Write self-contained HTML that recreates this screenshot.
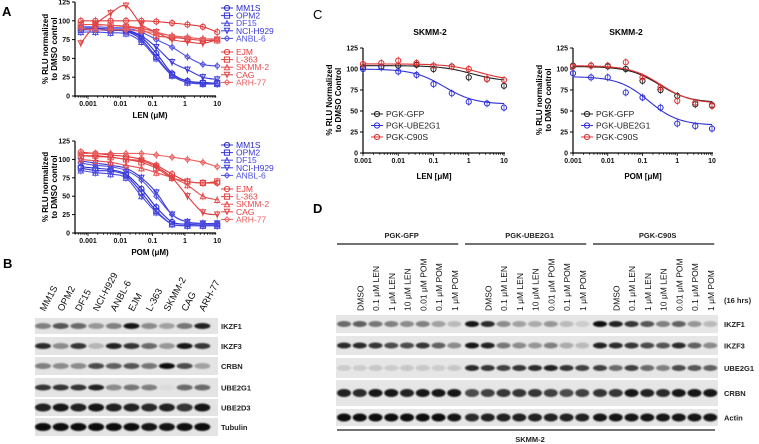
<!DOCTYPE html>
<html><head><meta charset="utf-8">
<style>
body{margin:0;background:#fff;}
svg{display:block;font-family:"Liberation Sans",Arial,sans-serif;}
.t{font-size:7px;font-weight:bold;fill:#111}
.lg{font-size:8.5px}
.bl{font-size:7.5px;font-weight:bold;fill:#222}
</style></head>
<body>
<svg id="fig" width="759" height="444" viewBox="0 0 759 444">
<defs><filter id="blur" x="-20%" y="-50%" width="140%" height="200%"><feGaussianBlur stdDeviation="0.8"/></filter></defs>
<text x="2" y="16" font-size="13" font-weight="bold">A</text>
<text x="3" y="268" font-size="13" font-weight="bold">B</text>
<text x="313" y="19" font-size="13">C</text>
<text x="313" y="213" font-size="13" font-weight="bold">D</text>
<g id="gA1"></g>
<g id="gA2"></g>
<g id="gCL"></g>
<g id="gCR"></g>
<g id="gB"></g>
<g id="gD"></g>
</svg>
<script>
// ---- Panel A data ----
const concA = [0.0006,0.0017,0.005,0.015,0.045,0.13,0.4,1.2,3.6,10];
const namesA = ["MM1S","OPM2","DF15","NCI-H929","ANBL-6","EJM","L-363","SKMM-2","CAG","ARH-77"];
const lenMM1S=[90,90,88,87,78,57,30,20,18,17];
const lenOPM2=[88,88,87,86,75,52,28,18,17,17];
const lenDF15=[85,85,84,83,72,50,27,18,16,16];
const lenH929=[90,90,89,88,80,65,45,35,25,22];
const lenANBL6=[92,92,91,90,85,75,65,52,42,40];
const lenEJM=[100,100,100,100,100,99,97,95,92,85];
const lenL363=[95,95,94,92,88,80,78,76,74,74];
const lenSKMM2=[95,95,94,93,90,85,80,78,76,76];
const lenCAG=[70,95,110,120,95,85,75,72,70,75];
const lenARH77=[90,88,88,88,86,84,80,78,76,75];
const pomMM1S=[90,88,86,80,60,35,15,12,12,12];
const pomOPM2=[88,85,84,78,55,30,12,10,10,10];
const pomDF15=[85,82,80,75,50,28,12,10,10,10];
const pomH929=[98,95,92,88,75,55,25,15,13,13];
const pomANBL6=[95,92,90,85,72,50,25,15,12,12];
const pomEJM=[110,108,106,104,100,92,80,70,68,68];
const pomL363=[105,105,103,100,96,88,75,70,68,70];
const pomSKMM2=[100,98,96,92,88,82,75,65,50,45];
const pomCAG=[105,104,103,100,98,90,75,50,28,25];
const pomARH77=[108,108,108,108,108,106,103,100,96,90];
// ---- Panel C data ----
const concC=[0.001,0.0033,0.01,0.033,0.1,0.33,1,3.3,10];
const namesC=["PGK-GFP","PGK-UBE2G1","PGK-C90S"];
const cLenGFP=[102,103,104,105,100,103,90,88,80];
const cLenUBE=[100,102,97,93,82,71,61,59,54];
const cLenC90S=[106,107,110,107,104,103,100,88,87];
const cPomGFP=[104,104,103,100,86,75,68,58,57];
const cPomUBE=[95,90,90,72,66,54,35,32,29];
const cPomC90S=[103,104,104,108,90,78,62,60,56];
// fitted curve parameters: [top, bottom, EC50]
const fitLenGFP=[104,85,1.2];
const fitLenUBE=[100,58,0.2];
const fitLenC90S=[106,86,2];
const fitPomGFP=[103,60,0.3];
const fitPomUBE=[91,33,0.15];
const fitPomC90S=[104,59,0.33];
const yTicks=[0,25,50,75,100,125];
const xTickVals=[0.001,0.01,0.1,1,10];
const xTickLabels=["0.001","0.01","0.1","1","10"];
// ---- Blot data ----
const lanesB=["MM1S","OPM2","DF15","NCI-H929","ANBL-6","EJM","L-363","SKMM-2","CAG","ARH-77"];
const proteinsB=["IKZF1","IKZF3","CRBN","UBE2G1","UBE2D3","Tubulin"];
const bIKZF1=[0.45,0.65,0.55,0.35,0.45,0.95,0.4,0.3,0.5,0.9];
const bIKZF3=[0.85,0.4,0.8,0.2,0.9,0.8,0.55,0.35,0.95,0.8];
const bCRBN=[0.45,0.4,0.4,0.7,0.6,0.65,0.5,0.98,0.7,0.3];
const bUBE2G1=[0.8,0.8,0.8,0.9,0.4,0.5,0.45,0.03,0.55,0.55];
const bUBE2D3=[0.9,0.95,0.9,0.95,0.9,0.9,0.85,0.9,0.8,0.95];
const bTub=[1,1,1,1,1,1,0.95,0.95,1,1];
const groupsD=["PGK-GFP","PGK-UBE2G1","PGK-C90S"];
const treatD=["DMSO","0.1 μM LEN","1 μM LEN","10 μM LEN","0.01 μM POM","0.1 μM POM","1 μM POM"];
const proteinsD=["IKZF1","IKZF3","UBE2G1","CRBN","Actin"];
const dIKZF1=[0.55,0.6,0.5,0.45,0.4,0.45,0.3,0.18, 0.95,0.85,0.4,0.3,0.25,0.35,0.18,0.1, 1,0.9,0.8,0.65,0.45,0.6,0.35,0.18];
const dIKZF3=[0.85,0.85,0.8,0.7,0.7,0.8,0.6,0.4, 0.95,0.9,0.5,0.4,0.35,0.45,0.25,0.18, 0.9,0.85,0.8,0.7,0.65,0.85,0.6,0.4];
const dUBE2G1=[0.1,0.1,0.12,0.1,0.12,0.12,0.1,0.12, 0.85,0.8,0.75,0.8,0.85,0.9,0.8,0.75, 0.75,0.55,0.75,0.55,0.45,0.7,0.65,0.6];
const dCRBN=[0.9,0.85,0.95,0.95,0.9,0.95,0.95,0.95, 0.7,0.75,0.8,0.8,0.8,0.75,0.7,0.75, 0.8,0.8,0.95,0.9,0.85,0.95,0.95,0.95];
const dActin=[1,1,1,1,1,1,1,0.95, 0.85,0.9,0.9,0.9,0.9,0.9,0.9,0.9, 0.95,0.95,0.95,0.95,0.95,0.95,0.95,0.95];

const NS="http://www.w3.org/2000/svg";
function mk(tag,attrs,parent){const e=document.createElementNS(NS,tag);for(const k in attrs)e.setAttribute(k,attrs[k]);parent.appendChild(e);return e;}
function txt(s,attrs,parent){const e=mk("text",attrs,parent);e.textContent=s;return e;}
const BLUES=["#2a2ad0","#3535d8","#4a4ae0","#3a3ad8","#5050e0"];
const REDS=["#e23a3a","#e04444","#e85050","#e04040","#e86060"];
const SHAPES=["circle","square","tri","dtri","diamond"];
function marker(g,shape,x,y,col){
  const r=2.6;let e;
  if(shape==="circle")e=mk("circle",{cx:x,cy:y,r:r,fill:"none",stroke:col,"stroke-width":1},g);
  else if(shape==="square")e=mk("rect",{x:x-r,y:y-r,width:2*r,height:2*r,fill:"none",stroke:col,"stroke-width":1},g);
  else if(shape==="tri")e=mk("polygon",{points:`${x},${y-r} ${x-r},${y+r} ${x+r},${y+r}`,fill:"none",stroke:col,"stroke-width":1},g);
  else if(shape==="dtri")e=mk("polygon",{points:`${x},${y+r} ${x-r},${y-r} ${x+r},${y-r}`,fill:"none",stroke:col,"stroke-width":1},g);
  else e=mk("polygon",{points:`${x},${y-r} ${x+r},${y} ${x},${y+r} ${x-r},${y}`,fill:"none",stroke:col,"stroke-width":1},g);
  
  
  return e;
}
function smoothPath(pts){
  let d=`M${pts[0][0]},${pts[0][1]}`;
  for(let i=0;i<pts.length-1;i++){
    const p0=pts[Math.max(0,i-1)],p1=pts[i],p2=pts[i+1],p3=pts[Math.min(pts.length-1,i+2)];
    const c1x=p1[0]+(p2[0]-p0[0])/6,c1y=p1[1]+(p2[1]-p0[1])/6;
    const c2x=p2[0]-(p3[0]-p1[0])/6,c2y=p2[1]-(p3[1]-p1[1])/6;
    d+=` C${c1x},${c1y} ${c2x},${c2y} ${p2[0]},${p2[1]}`;
  }
  return d;
}
function axes(g,xs,ys,x0,x1){
  const ya=mk("line",{x1:x0,y1:ys(0)+1,x2:x0,y2:ys(125),stroke:"#000","stroke-width":1.2},g);
  
  
  const xa=mk("line",{x1:x0,y1:ys(0),x2:x1,y2:ys(0),stroke:"#000","stroke-width":1.2},g);
  
  
  yTicks.forEach(v=>{
    mk("line",{x1:x0-3,y1:ys(v),x2:x0,y2:ys(v),stroke:"#000"},g);
    const t=txt(String(v),{x:x0-5,y:ys(v)+2.5,"text-anchor":"end",class:"t"},g);
    
    
  });
  for(let d=-4;d<=1;d++)for(let m=1;m<10;m++){
    const c=m*Math.pow(10,d);const x=xs(c);
    if(x<x0-0.5||x>x1+0.5)continue;
    mk("line",{x1:x,y1:ys(0),x2:x,y2:ys(0)+(m===1?3:1.8),stroke:"#000","stroke-width":0.8},g);
  }
  xTickVals.forEach((c,i)=>{
    const t=txt(xTickLabels[i],{x:xs(c),y:ys(0)+10,"text-anchor":"middle",class:"t"},g);
    
    
  });
}
function series(g,xs,ys,conc,vals,shape,col,name,fit){
  const pts=conc.map((c,i)=>[xs(c),ys(vals[i])]);
  let d;
  if(fit){
    const lo=Math.log10(conc[0]),hi=Math.log10(conc[conc.length-1]);const fp=[];
    for(let k=0;k<=60;k++){const lc=lo+(hi-lo)*k/60;const c=Math.pow(10,lc);
      const v=fit[1]+(fit[0]-fit[1])/(1+c/fit[2]);fp.push([xs(c),ys(v)]);}
    d="M"+fp.map(p=>p[0].toFixed(2)+","+p[1].toFixed(2)).join(" L");
  } else d=smoothPath(pts);
  const p=mk("path",{d:d,fill:"none",stroke:col,"stroke-width":1.1},g);
  
  
  pts.forEach(q=>{
    mk("line",{x1:q[0],y1:q[1]-4,x2:q[0],y2:q[1]+4,stroke:col,"stroke-width":0.7},g);
    marker(g,shape,q[0],q[1],col);
  });
}
function legendEntry(g,x,y,shape,col,label,tcol){
  mk("line",{x1:x,y1:y,x2:x+12,y2:y,stroke:col,"stroke-width":1},g);
  marker(g,shape,x+6,y,col);
  const t=txt(label,{x:x+15,y:y+3,class:"lg",fill:tcol||col},g);
  
  
}
function yTitle(g,x,cy,l1,l2){
  const t=txt("",{transform:`translate(${x},${cy}) rotate(-90)`,"text-anchor":"middle","font-size":"8","font-weight":"bold"},g);
  
  
  mk("tspan",{x:0,y:0},t).textContent=l1;
  mk("tspan",{x:0,y:9},t).textContent=l2;
}
// ---- Panel A ----
const xA=c=>88+(Math.log10(c)+3)*32.3;
function panelA(g,ys,data,xlabel,legTop){
  axes(g,xA,ys,75,216);
  data.forEach((v,i)=>series(g,xA,ys,concA,v,SHAPES[i%5],i<5?BLUES[i]:REDS[i-5],namesA[i]));
  yTitle(g,48,(ys(0)+ys(125))/2,"% RLU normalized","to DMSO control");
  const t=txt(xlabel,{x:150,y:ys(0)+22,"text-anchor":"middle","font-size":"8","font-weight":"bold"},g);
  
  
  namesA.forEach((n,i)=>legendEntry(g,221,legTop+(i<5?i*7.6:i*7.6+6),SHAPES[i%5],i<5?BLUES[i]:REDS[i-5],n));
}
const yA1=v=>96-v*94/125;
const yA2=v=>233-v*92/125;
panelA(document.getElementById("gA1"),yA1,[lenMM1S,lenOPM2,lenDF15,lenH929,lenANBL6,lenEJM,lenL363,lenSKMM2,lenCAG,lenARH77],"LEN (μM)",8);
panelA(document.getElementById("gA2"),yA2,[pomMM1S,pomOPM2,pomDF15,pomH929,pomANBL6,pomEJM,pomL363,pomSKMM2,pomCAG,pomARH77],"POM (μM)",145);
// ---- Panel C ----
const yC=v=>153-v*105/125;
const COLC=["#222","#3030d8","#e03030"];
function panelC(g,xs,x0,x1,data,fits,xlabel,cx,ytl){
  axes(g,xs,yC,x0,x1);
  data.forEach((v,i)=>series(g,xs,yC,concC,v,"circle",COLC[i],namesC[i],fits[i]));
  const ti=txt("SKMM-2",{x:cx,y:35,"text-anchor":"middle","font-size":"8.5","font-weight":"bold"},g);
  
  
  yTitle(g,x0-31,100,ytl[0],ytl[1]);
  const t=txt(xlabel,{x:(x0+x1)/2,y:179,"text-anchor":"middle","font-size":"8","font-weight":"bold"},g);
  
  
  namesC.forEach((n,i)=>legendEntry(g,x0+8,114+i*11.5,"circle",COLC[i],n,"#222"));
}
panelC(document.getElementById("gCL"),c=>363+(Math.log10(c)+3)*35.25,363,505,[cLenGFP,cLenUBE,cLenC90S],[fitLenGFP,fitLenUBE,fitLenC90S],"LEN [μM]",430,["% RLU Normalized","to DMSO Control"]);
panelC(document.getElementById("gCR"),c=>573+(Math.log10(c)+3)*34.75,573,713,[cPomGFP,cPomUBE,cPomC90S],[fitPomGFP,fitPomUBE,fitPomC90S],"POM [μM]",626,["% RLU normalized","to DMSO control"]);
// ---- Blots ----
function band(g,x,y,w,h,v){
  const gray=Math.round(225-v*215);
  const e=mk("ellipse",{cx:x,cy:y,rx:w/2,ry:h/2,fill:`rgb(${gray},${gray},${gray})`,filter:"url(#blur)"},g);
  
  
}
(function(){
  const g=document.getElementById("gB");
  const lx=i=>43+i*17.7;
  lanesB.forEach((n,i)=>{
    const t=txt(n,{transform:`translate(${lx(i)+2},312) rotate(-62)`,"font-size":"9.5",fill:"#111"},g);
    
    
  });
  const rows=[[318,334],[337,355],[357,375],[378,397],[399,416],[418,436]];
  const dat=[bIKZF1,bIKZF3,bCRBN,bUBE2G1,bUBE2D3,bTub];
  rows.forEach((r,k)=>{
    const bg=mk("rect",{x:35,y:r[0],width:183,height:r[1]-r[0],fill:"#e4e4e4"},g);
    
    
    dat[k].forEach((v,i)=>band(g,lx(i),(r[0]+r[1])/2,16,k>=4?8:6,v));
    const t=txt(proteinsB[k],{x:221,y:(r[0]+r[1])/2+3,class:"bl"},g);
    
    
  });
})();
(function(){
  const g=document.getElementById("gD");
  const lx=i=>344+i*15.75+Math.floor(i/8)*2;
  groupsD.forEach((n,j)=>{
    const x0=lx(j*8)-7,x1=lx(j*8+7)+4;
    const t=txt(n,{x:(x0+x1)/2+4,y:238,"text-anchor":"middle",class:"bl"},g);
    
    
    mk("line",{x1:x0,y1:244,x2:x1,y2:244,stroke:"#444","stroke-width":1.5},g);
    treatD.forEach((tr,i)=>{
      const tt=txt(tr,{transform:`translate(${lx(j*8+i+1)+3.5},311) rotate(-90)`,"font-size":"8.5",fill:"#111"},g);
      
      
    });
  });
  const h=txt("(16 hrs)",{x:724,y:303,class:"bl"},g);
  
  
  const rows=[[315,333],[336,355],[358,378],[380,406],[409,426]];
  const dat=[dIKZF1,dIKZF3,dUBE2G1,dCRBN,dActin];
  rows.forEach((r,k)=>{
    const bg=mk("rect",{x:336,y:r[0],width:382,height:r[1]-r[0],fill:"#e6e6e6"},g);
    
    
    dat[k].forEach((v,i)=>band(g,lx(i),(r[0]+r[1])/2,14,k>=3?8:6,v));
    const t=txt(proteinsD[k],{x:724,y:(r[0]+r[1])/2+3,class:"bl"},g);
    
    
  });
  mk("line",{x1:337,y1:430,x2:715,y2:430,stroke:"#444","stroke-width":1.5},g);
  const s=txt("SKMM-2",{x:530,y:442,"text-anchor":"middle",class:"bl"},g);
  
  
})();
</script>
</body></html>
